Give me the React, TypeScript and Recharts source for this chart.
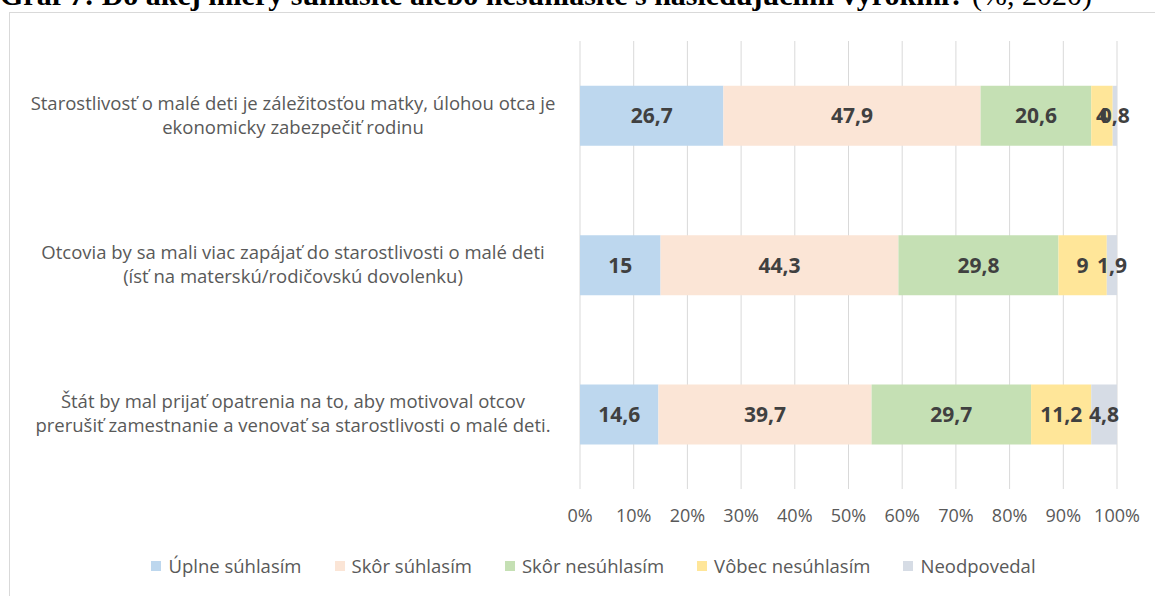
import React from 'react';
import { BarChart, Bar, XAxis, YAxis, CartesianGrid, Legend, LabelList } from 'recharts';

const categories = [
  'Starostlivosť o malé deti je záležitosťou matky, úlohou otca je\nekonomicky zabezpečiť rodinu',
  'Otcovia by sa mali viac zapájať do starostlivosti o malé deti\n(ísť na materskú/rodičovskú dovolenku)',
  'Štát by mal prijať opatrenia na to, aby motivoval otcov\nprerušiť zamestnanie a venovať sa starostlivosti o malé deti.',
];
const seriesNames = ['Úplne súhlasím', 'Skôr súhlasím', 'Skôr nesúhlasím', 'Vôbec nesúhlasím', 'Neodpovedal'];
const uplneSuhlasim = [26.7, 15, 14.6];
const skorSuhlasim = [47.9, 44.3, 39.7];
const skorNesuhlasim = [20.6, 29.8, 29.7];
const vobecNesuhlasim = [4, 9, 11.2];
const neodpovedal = [0.8, 1.9, 4.8];
const xTicks = [0, 10, 20, 30, 40, 50, 60, 70, 80, 90, 100];
const titleBold = 'Graf 7: Do akej miery súhlasíte alebo nesúhlasíte s nasledujúcimi výrokmi?';
const titleRest = '  (%, 2020)';

const seriesValues = [uplneSuhlasim, skorSuhlasim, skorNesuhlasim, vobecNesuhlasim, neodpovedal];
const colors = ['#BDD7EE', '#FBE5D6', '#C5E0B4', '#FFE699', '#D6DCE5'];
const keys = ['s0', 's1', 's2', 's3', 's4'];

const data = categories.map((c, i) => {
  const row: any = { cat: c };
  keys.forEach((k, j) => (row[k] = seriesValues[j][i]));
  return row;
});

const FONT = '"Open Sans", "Noto Sans", sans-serif';
const TEXT = '#595959';

const fmt = (v: any) => String(v).replace('.', ',');

const YTick = (props: any) => {
  const { y, payload } = props;
  const lines = String(payload.value).split('\n');
  const cx = 293;
  return (
    <text textAnchor="middle" fill={TEXT} fontSize={18.5} fontFamily={FONT}>
      {lines.map((l, i) => (
        <tspan key={i} x={cx} y={y + (i - (lines.length - 1) / 2) * 24 + 6}>
          {l}
        </tspan>
      ))}
    </text>
  );
};

const LegendContent = (props: any) => {
  const payload = [...(props.payload || [])].sort(
    (a: any, b: any) => seriesNames.indexOf(a.value) - seriesNames.indexOf(b.value)
  );
  return (
    <div
      style={{
        height: 67,
        display: 'flex',
        justifyContent: 'center',
        alignItems: 'center',
        paddingTop: 6,
        paddingLeft: 70,
        boxSizing: 'border-box',
        fontFamily: FONT,
        fontSize: 18.5,
        color: TEXT,
      }}
    >
      {payload.map((p: any, i: number) => (
        <div key={i} style={{ display: 'flex', alignItems: 'center', marginRight: i < payload.length - 1 ? 33 : 0 }}>
          <div style={{ width: 10, height: 10, background: p.color, marginRight: 7 }} />
          <span>{p.value}</span>
        </div>
      ))}
    </div>
  );
};

export default function App() {
  return (
    <div style={{ position: 'absolute', left: 0, top: 0, width: 1155, height: 596, overflow: 'hidden', background: '#fff' }}>
      <svg width={1155} height={20} style={{ position: 'absolute', left: 0, top: 0 }}>
        <text x={0} y={5} fontFamily='"Liberation Serif", "Times New Roman", serif' fontSize={30} fill="#000">
          <tspan fontWeight="bold">{titleBold}</tspan>
          <tspan>{titleRest}</tspan>
        </text>
      </svg>
      <div
        style={{
          position: 'absolute',
          left: 9,
          top: 12,
          width: 1200,
          height: 640,
          border: '1px solid #d9d9d9',
        }}
      />
      <div style={{ position: 'absolute', left: 0, top: 0 }}>
        <BarChart
          width={1155}
          height={596}
          data={data}
          layout="vertical"
          margin={{ top: 41, right: 38, left: 0, bottom: 0 }}
          barCategoryGap="30%"
        >
          <CartesianGrid horizontal={false} vertical={true} stroke="#d9d9d9" strokeWidth={1} />
          <XAxis
            type="number"
            domain={[0, 100]}
            ticks={xTicks}
            tickFormatter={(v: any) => `${v}%`}
            axisLine={false}
            tickLine={false}
            tickMargin={14}
            height={40}
            interval={0}
            tick={{ fill: TEXT, fontSize: 18, fontFamily: FONT }}
          />
          <YAxis
            type="category"
            dataKey="cat"
            width={580}
            axisLine={false}
            tickLine={false}
            tick={<YTick />}
            interval={0}
          />
          <Legend verticalAlign="bottom" content={<LegendContent />} />
          {keys.map((k, j) => (
            <Bar key={k} dataKey={k} name={seriesNames[j]} stackId="a" fill={colors[j]} isAnimationActive={false}>
              <LabelList
                dataKey={k}
                position="center"
                formatter={fmt}
                fill="#404040"
                fontWeight="bold"
                fontSize={21}
                fontFamily={FONT}
              />
            </Bar>
          ))}
        </BarChart>
      </div>
    </div>
  );
}
